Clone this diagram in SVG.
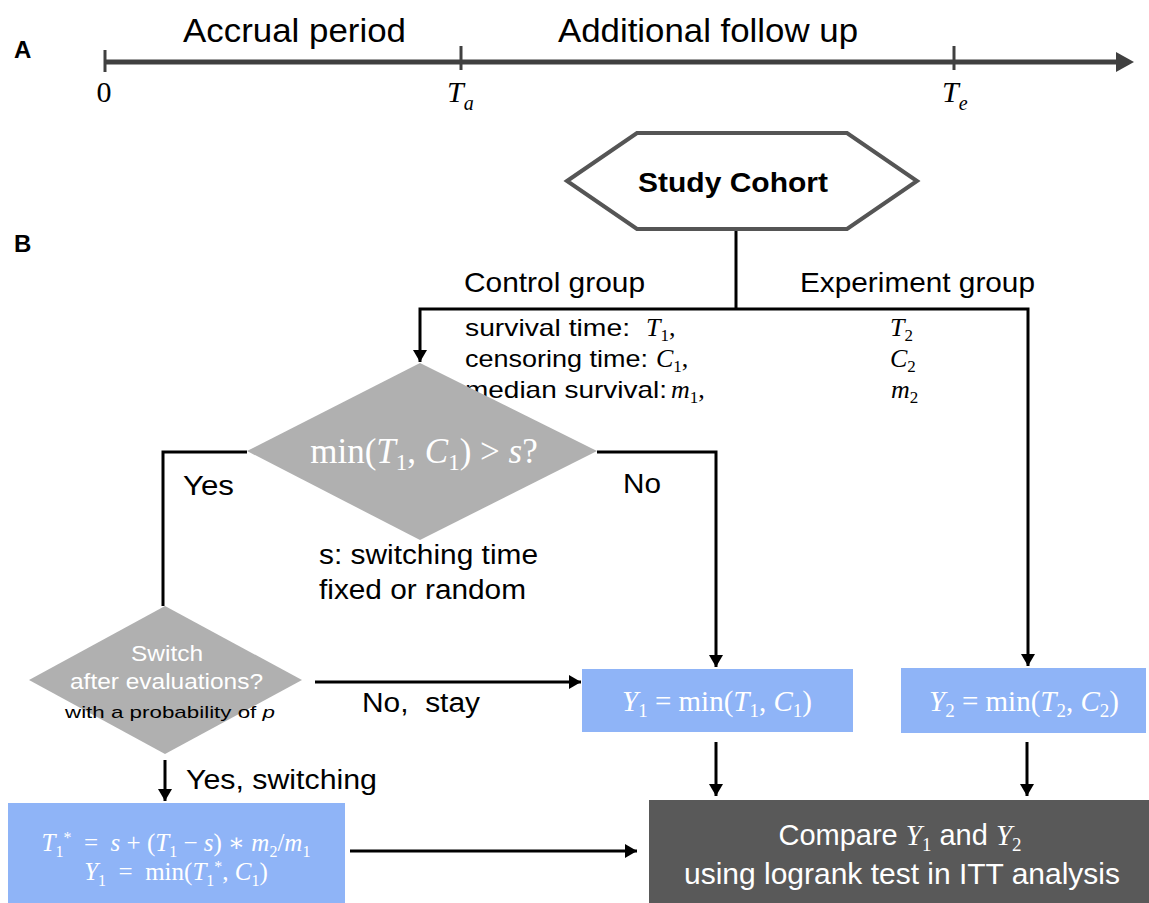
<svg xmlns="http://www.w3.org/2000/svg" width="1149" height="903" viewBox="0 0 1149 903">
<style>
.sans{font-family:"Liberation Sans",Arial,sans-serif}
.math{font-family:"Liberation Serif","DejaVu Serif",serif}
.it{font-style:italic}
.pre{white-space:pre}
.conn{fill:none;stroke:#000;stroke-width:3}
.blue{fill:#8fb4f7}
.diam{fill:#b0b0b0}
</style>
<defs>
<marker id="ah" viewBox="0 0 12 14" markerWidth="12" markerHeight="14" refX="12" refY="7" orient="auto" markerUnits="userSpaceOnUse">
<path d="M0,0 L12,7 L0,14 z" fill="#000"/>
</marker>
</defs>
<rect width="1149" height="903" fill="#fff"/>

<g id="timeline">
<text x="14" y="58" class="sans" font-size="24" font-weight="bold">A</text>
<line x1="105" y1="62" x2="1118" y2="62" stroke="#404040" stroke-width="5"/>
<polygon points="1116,52 1134,62 1116,72" fill="#404040"/>
<line x1="105" y1="50" x2="105" y2="72" stroke="#404040" stroke-width="3"/>
<line x1="461" y1="46" x2="461" y2="70" stroke="#404040" stroke-width="3"/>
<line x1="954" y1="46" x2="954" y2="70" stroke="#404040" stroke-width="3"/>
<text x="183" y="42" class="sans" font-size="33" textLength="223" lengthAdjust="spacingAndGlyphs">Accrual period</text>
<text x="558" y="42" class="sans" font-size="33" textLength="300" lengthAdjust="spacingAndGlyphs">Additional follow up</text>
<text x="104" y="102" class="math" font-size="30" text-anchor="middle">0</text>
<text x="447" y="102" class="math" font-size="30"><tspan class="it">T</tspan><tspan class="it" font-size="20" dy="8">a</tspan></text>
<text x="942" y="102" class="math" font-size="30"><tspan class="it">T</tspan><tspan class="it" font-size="20" dy="8">e</tspan></text>
</g>

<text x="14" y="252" class="sans" font-size="24" font-weight="bold">B</text>

<g id="study-cohort">
<polygon points="567,181 637,133 847,133 917,181 847,229 637,229" fill="#fff" stroke="#555" stroke-width="4"/>
<text x="638" y="192" class="sans" font-size="28" font-weight="bold" textLength="190" lengthAdjust="spacingAndGlyphs">Study Cohort</text>
</g>

<g id="group-labels">
<text x="464" y="292" class="sans" font-size="28" textLength="181" lengthAdjust="spacingAndGlyphs">Control group</text>
<text x="800" y="292" class="sans" font-size="28" textLength="235" lengthAdjust="spacingAndGlyphs">Experiment group</text>
<text x="465" y="336" class="sans" font-size="24" textLength="165" lengthAdjust="spacingAndGlyphs">survival time:</text>
<text x="646" y="336" class="math" font-size="26"><tspan class="it">T</tspan><tspan font-size="17" dy="5">1</tspan><tspan dy="-5">,</tspan></text>
<text x="465" y="367" class="sans" font-size="24" textLength="183" lengthAdjust="spacingAndGlyphs">censoring time:</text>
<text x="656" y="367" class="math" font-size="26"><tspan class="it">C</tspan><tspan font-size="17" dy="5">1</tspan><tspan dy="-5">,</tspan></text>
<text x="465" y="398" class="sans" font-size="24" textLength="202" lengthAdjust="spacingAndGlyphs">median survival:</text>
<text x="671" y="398" class="math" font-size="26"><tspan class="it">m</tspan><tspan font-size="17" dy="5">1</tspan><tspan dy="-5">,</tspan></text>
<text x="890" y="336" class="math" font-size="26"><tspan class="it">T</tspan><tspan font-size="17" dy="5">2</tspan></text>
<text x="890" y="367" class="math" font-size="26"><tspan class="it">C</tspan><tspan font-size="17" dy="5">2</tspan></text>
<text x="891" y="398" class="math" font-size="26"><tspan class="it">m</tspan><tspan font-size="17" dy="5">2</tspan></text>
</g>

<g id="decision-switch-time">
<polygon points="420,363 597,451 420,540 247,451" class="diam"/>
<text x="424" y="463" class="math" font-size="35" fill="#fff" text-anchor="middle">min(<tspan class="it">T</tspan><tspan font-size="23" dy="7">1</tspan><tspan dy="-7">, </tspan><tspan class="it">C</tspan><tspan font-size="23" dy="7">1</tspan><tspan dy="-7">) &gt; </tspan><tspan class="it">s</tspan>?</text>
<text x="319" y="564" class="sans" font-size="27" textLength="219" lengthAdjust="spacingAndGlyphs">s: switching time</text>
<text x="319" y="599" class="sans" font-size="27" textLength="207" lengthAdjust="spacingAndGlyphs">fixed or random</text>
</g>

<g id="decision-switch-eval">
<polygon points="165,606 302,680 165,754 29,680" class="diam"/>
<text x="131" y="661" class="sans" font-size="22" fill="#fff" textLength="72" lengthAdjust="spacingAndGlyphs">Switch</text>
<text x="70" y="689" class="sans" font-size="22" fill="#fff" textLength="193" lengthAdjust="spacingAndGlyphs">after evaluations?</text>
<text x="65" y="718" class="sans" font-size="17" textLength="210" lengthAdjust="spacingAndGlyphs">with a probability of <tspan font-style="italic">p</tspan></text>
</g>

<g id="y1-box">
<rect x="582" y="669" width="271" height="63" class="blue"/>
<text x="717" y="711" class="math" font-size="29" fill="#fff" text-anchor="middle"><tspan class="it">Y</tspan><tspan font-size="19" dy="6">1</tspan><tspan dy="-6"> = min(</tspan><tspan class="it">T</tspan><tspan font-size="19" dy="6">1</tspan><tspan dy="-6">, </tspan><tspan class="it">C</tspan><tspan font-size="19" dy="6">1</tspan><tspan dy="-6">)</tspan></text>
</g>

<g id="y2-box">
<rect x="901" y="668" width="245" height="65" class="blue"/>
<text x="1024" y="711" class="math" font-size="29" fill="#fff" text-anchor="middle"><tspan class="it">Y</tspan><tspan font-size="19" dy="6">2</tspan><tspan dy="-6"> = min(</tspan><tspan class="it">T</tspan><tspan font-size="19" dy="6">2</tspan><tspan dy="-6">, </tspan><tspan class="it">C</tspan><tspan font-size="19" dy="6">2</tspan><tspan dy="-6">)</tspan></text>
</g>

<g id="switch-box">
<rect x="8" y="803" width="337" height="100" class="blue"/>
<text x="176" y="851" class="math pre" font-size="25" fill="#fff" text-anchor="middle"><tspan class="it">T</tspan><tspan font-size="16" dy="6">1</tspan><tspan font-size="16" dy="-14">*</tspan><tspan font-size="25" dy="8">  =  </tspan><tspan class="it">s</tspan> + (<tspan class="it">T</tspan><tspan font-size="16" dy="6">1</tspan><tspan dy="-6"> − </tspan><tspan class="it">s</tspan>) ∗ <tspan class="it">m</tspan><tspan font-size="16" dy="6">2</tspan><tspan dy="-6">/</tspan><tspan class="it">m</tspan><tspan font-size="16" dy="6">1</tspan></text>
<text x="176" y="880" class="math pre" font-size="25" fill="#fff" text-anchor="middle"><tspan class="it">Y</tspan><tspan font-size="16" dy="6">1</tspan><tspan dy="-6">  =  min(</tspan><tspan class="it">T</tspan><tspan font-size="16" dy="6">1</tspan><tspan font-size="16" dy="-14">*</tspan><tspan dy="8">, </tspan><tspan class="it">C</tspan><tspan font-size="16" dy="6">1</tspan><tspan dy="-6">)</tspan></text>
</g>

<g id="compare-box">
<rect x="649" y="800" width="500" height="103" fill="#595959"/>
<text x="900" y="845" class="sans" font-size="29" fill="#fff" text-anchor="middle">Compare <tspan class="math it">Y</tspan><tspan class="math" font-size="19" dy="6">1</tspan><tspan dy="-6"> and </tspan><tspan class="math it">Y</tspan><tspan class="math" font-size="19" dy="6">2</tspan></text>
<text x="684" y="884" class="sans" font-size="29" fill="#fff" textLength="436" lengthAdjust="spacingAndGlyphs">using logrank test in ITT analysis</text>
</g>

<g id="connectors">
<line x1="736" y1="231" x2="736" y2="309" class="conn"/>
<path d="M736,309 H420 V362" class="conn" marker-end="url(#ah)"/>
<path d="M736,309 H1028 V666" class="conn" marker-end="url(#ah)"/>
<path d="M247,452 H163 V606" class="conn"/>
<path d="M597,452 H716 V667" class="conn" marker-end="url(#ah)"/>
<path d="M315,682 H581" class="conn" marker-end="url(#ah)"/>
<path d="M165,760 V801" class="conn" marker-end="url(#ah)"/>
<path d="M716,742 V796" class="conn" marker-end="url(#ah)"/>
<path d="M1027,742 V796" class="conn" marker-end="url(#ah)"/>
<path d="M350,851 H637" class="conn" marker-end="url(#ah)"/>
<text x="183" y="495" class="sans" font-size="27" textLength="51" lengthAdjust="spacingAndGlyphs">Yes</text>
<text x="623" y="493" class="sans" font-size="27" textLength="38" lengthAdjust="spacingAndGlyphs">No</text>
<text x="362" y="712" class="sans pre" font-size="27" textLength="118" lengthAdjust="spacingAndGlyphs">No,  stay</text>
<text x="186" y="789" class="sans" font-size="27" textLength="191" lengthAdjust="spacingAndGlyphs">Yes, switching</text>
</g>
</svg>
